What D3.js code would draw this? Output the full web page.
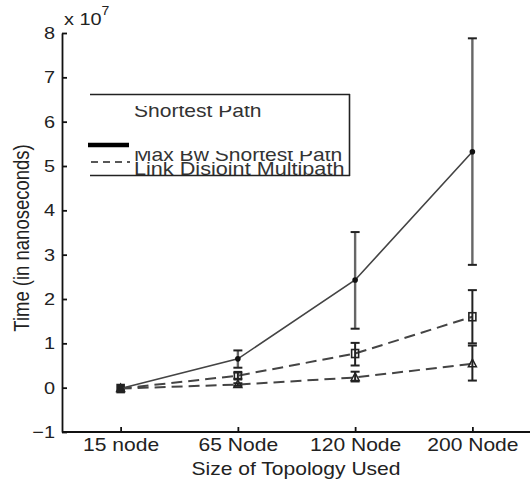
<!DOCTYPE html>
<html><head><meta charset="utf-8">
<script src="https://cdn.jsdelivr.net/npm/d3@7"></script>
<style>body{margin:0;background:#fff}svg{display:block;font-family:"Liberation Sans",Arial,sans-serif}</style>
</head><body><svg id="c" width="530" height="481"></svg>
<script>
const categories = ["15 node","65 Node","120 Node","200 Node"];
const yTicks = [-1,0,1,2,3,4,5,6,7,8];
// values in units of 1e7 ns
const shortestMean = [-0.02, 0.65, 2.43, 5.32];
const shortestLo   = [-0.04, 0.45, 1.33, 2.77];
const shortestHi   = [ 0.00, 0.84, 3.51, 7.88];
const squareMean = [-0.02, 0.27, 0.77, 1.60];
const squareLo   = [-0.04, 0.20, 0.50, 1.00];
const squareHi   = [ 0.00, 0.34, 1.01, 2.20];
const triMean = [-0.02, 0.07, 0.23, 0.54];
const triLo   = [-0.04, 0.04, 0.14, 0.16];
const triHi   = [ 0.00, 0.10, 0.36, 0.95];
const legendLabels = ["Shortest Path","Max Bw Shortest Path","Link Disjoint Multipath"];

const SX = 1.17; // horizontal glyph stretch seen in the reference
const svg = d3.select("#c");
const x = d3.scalePoint().domain(categories).range([62, 531]).padding(0.5);
const y = d3.scaleLinear().domain([-1, 8]).range([432, 33]);

// axes
const yAxis = d3.axisLeft(y).tickValues(yTicks).tickSizeInner(-5).tickSizeOuter(0).tickPadding(6)
  .tickFormat(d => d < 0 ? "\u2212" + Math.abs(d) : d);
const gy = svg.append("g").attr("transform","translate(62,0)").call(yAxis);
gy.selectAll("text").attr("font-size",17).attr("fill","#222").attr("transform",`scale(${SX},1)`);
gy.selectAll("line,path").attr("stroke","#111").attr("stroke-width",1.8);

const xAxis = d3.axisBottom(x).tickSizeInner(-5).tickSizeOuter(0).tickPadding(6);
const gx = svg.append("g").attr("transform","translate(0,432)").call(xAxis);
gx.select("path").attr("d","M62,0H530");
gx.selectAll("text").attr("font-size",18).attr("fill","#222").attr("transform",`scale(${SX},1)`);
gx.selectAll("line,path").attr("stroke","#111").attr("stroke-width",1.8);

svg.append("text").attr("transform",`translate(296,475) scale(${SX},1)`).attr("text-anchor","middle")
  .attr("font-size",18).attr("fill","#222").text("Size of Topology Used");
svg.append("text").attr("transform",`translate(29,238) scale(${SX},1) rotate(-90)`).attr("text-anchor","middle")
  .attr("font-size",18.5).attr("fill","#222").text("Time (in nanoseconds)");
const mult = svg.append("text").attr("transform",`translate(64,25) scale(${SX},1)`).attr("font-size",17).attr("fill","#222");
mult.append("tspan").text("x 10");
mult.append("tspan").attr("dy",-10).attr("font-size",12).text("7");

// series
const series = [
  {mean: shortestMean, lo: shortestLo, hi: shortestHi, dash: null, lw: 1.6, marker: "dot", ebColor: "#666", ebW: 2.4},
  {mean: squareMean, lo: squareLo, hi: squareHi, dash: "11,6", lw: 2, marker: "square", ebColor: "#222", ebW: 2},
  {mean: triMean, lo: triLo, hi: triHi, dash: "11,6", lw: 2, marker: "tri", ebColor: "#222", ebW: 2}
];
const line = d3.line().x((d,i) => x(categories[i])).y(d => y(d)).curve(d3.curveLinear);
series.forEach(s => {
  svg.append("path").datum(s.mean).attr("d", line).attr("fill","none")
    .attr("stroke","#444").attr("stroke-width",s.lw).attr("stroke-dasharray", s.dash);
  const g = svg.append("g");
  s.mean.forEach((m,i) => {
    const cx = x(categories[i]);
    if (i > 0) {
      g.append("line").attr("x1",cx).attr("x2",cx).attr("y1",y(s.lo[i])).attr("y2",y(s.hi[i]))
        .attr("stroke",s.ebColor).attr("stroke-width",s.ebW);
      [s.lo[i], s.hi[i]].forEach(v => g.append("line").attr("x1",cx-4.5).attr("x2",cx+4.5)
        .attr("y1",y(v)).attr("y2",y(v)).attr("stroke","#222").attr("stroke-width",2));
    }
    const cy = y(m);
    if (s.marker === "dot") {
      g.append("circle").attr("cx",cx).attr("cy",cy).attr("r",2.8).attr("fill","#111");
    } else if (s.marker === "square") {
      g.append("rect").attr("x",cx-3.5).attr("y",cy-4).attr("width",7).attr("height",8)
        .attr("fill", i===0 ? "#222" : "none").attr("stroke","#222").attr("stroke-width",1.6);
    } else {
      g.append("path").attr("d",`M${cx},${cy-4.5}L${cx+4},${cy+3}L${cx-4},${cy+3}Z`)
        .attr("fill", i===0 ? "#222" : "none").attr("stroke","#222").attr("stroke-width",1.5);
    }
  });
});

// legend (reproducing the clipped rendering of the reference)
const leg = svg.append("g");
leg.append("rect").attr("x",90).attr("y",94).attr("width",259).attr("height",82).attr("fill","#fff");
const defs = svg.append("defs");
const clipTops = [106, 151, 150];
const textY = [117, 161, 175];
const legSizes = [18, 18, 18.5];
legendLabels.forEach((t,i) => {
  defs.append("clipPath").attr("id","lc"+i).append("rect").attr("x",90).attr("y",clipTops[i]).attr("width",258).attr("height",176-clipTops[i]);
  leg.append("g").attr("clip-path",`url(#lc${i})`)
    .append("text").attr("transform",`translate(134,${textY[i]}) scale(${SX},1)`)
    .attr("font-size",legSizes[i]).attr("fill","#333").text(t);
});
leg.append("line").attr("x1",90).attr("x2",350).attr("y1",94.5).attr("y2",94.5).attr("stroke","#222").attr("stroke-width",1.6);
leg.append("line").attr("x1",90).attr("x2",350).attr("y1",175.5).attr("y2",175.5).attr("stroke","#222").attr("stroke-width",1.6);
leg.append("line").attr("x1",349.5).attr("x2",349.5).attr("y1",94).attr("y2",176).attr("stroke","#222").attr("stroke-width",1.6);
leg.append("line").attr("x1",88).attr("x2",129).attr("y1",145).attr("y2",145).attr("stroke","#000").attr("stroke-width",4.5);
leg.append("line").attr("x1",91).attr("x2",130).attr("y1",162).attr("y2",162).attr("stroke","#222").attr("stroke-width",1.4).attr("stroke-dasharray","7,5");
</script></body></html>
